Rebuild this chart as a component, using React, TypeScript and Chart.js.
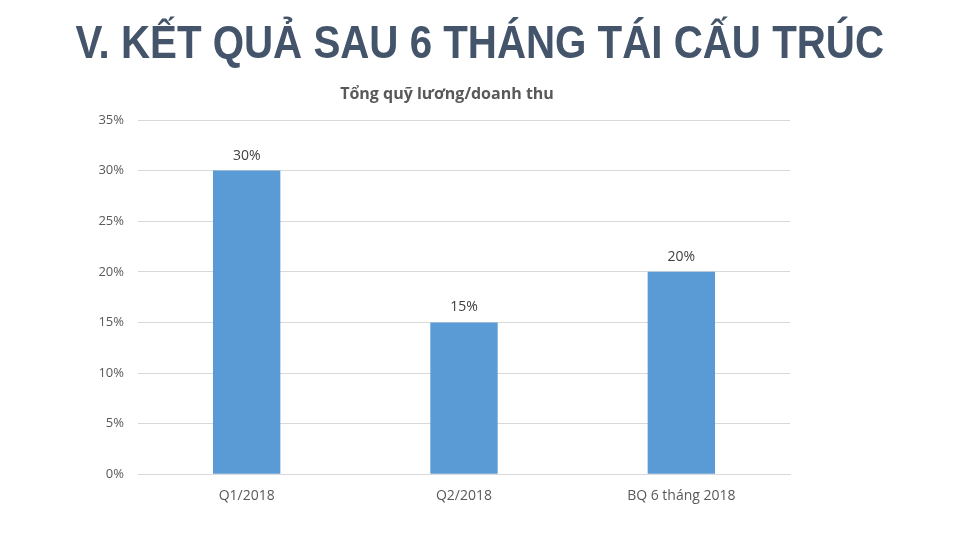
import React, { useEffect, useRef } from "react";
import { Chart, registerables } from "chart.js";

Chart.register(...registerables);

const pageTitle = "V. KẾT QUẢ SAU 6 THÁNG TÁI CẤU TRÚC";
const chartTitle = "Tổng quỹ lương/doanh thu";
const categories = ["Q1/2018", "Q2/2018", "BQ 6 tháng 2018"];
const values = [30, 15, 20];
const yMax = 35;
const yStep = 5;

const labelPlugin = {
  id: "valueLabels",
  afterDatasetsDraw(chart: any) {
    const ctx = chart.ctx;
    const meta = chart.getDatasetMeta(0);
    ctx.save();
    ctx.font = "14px 'Open Sans'";
    ctx.fillStyle = "#404040";
    ctx.textAlign = "center";
    ctx.textBaseline = "middle";
    meta.data.forEach((bar: any, i: number) => {
      ctx.fillText(values[i] + "%", bar.x, bar.y - 15);
    });
    // chart title
    ctx.font = "bold 16px 'Open Sans'";
    ctx.fillStyle = "#595959";
    ctx.fillText(chartTitle, 447, 94);
    ctx.restore();
  },
};

export default function App() {
  const ref = useRef<HTMLCanvasElement>(null);
  useEffect(() => {
    const chart = new Chart(ref.current!, {
      type: "bar",
      data: {
        labels: categories,
        datasets: [
          {
            data: values,
            backgroundColor: "#5B9BD5",
            categoryPercentage: 1,
            barPercentage: 0.31,
          },
        ],
      },
      options: {
        animation: false,
        responsive: false,
        maintainAspectRatio: false,
        layout: { padding: { left: 0, right: 170, top: 120, bottom: 23 } },
        plugins: {
          legend: { display: false },
          tooltip: { enabled: false },
          title: { display: false },
        },
        scales: {
          x: {
            grid: { display: false, drawTicks: false },
            border: { display: true, color: "#D9D9D9" },
            ticks: {
              color: "#595959",
              font: { family: "'Open Sans'", size: 14 },
              padding: 13,
            },
          },
          y: {
            min: 0,
            max: yMax,
            afterFit(scale: any) {
              scale.width = 138;
            },
            grid: { color: "#D9D9D9", drawTicks: false },
            border: { display: false },
            ticks: {
              stepSize: yStep,
              color: "#595959",
              font: { family: "'Open Sans'", size: 13 },
              padding: 14,
              callback: (v: any) => v + "%",
            },
          },
        },
      },
      plugins: [labelPlugin],
    });
    return () => chart.destroy();
  }, []);
  return (
    <div>
      <canvas
        ref={ref}
        width={960}
        height={540}
        style={{ position: "absolute", left: 0, top: 0, width: 960, height: 540 }}
      />
      <div
        style={{
          position: "absolute",
          left: 0,
          top: 14,
          width: 960,
          textAlign: "center",
          fontFamily: "'Liberation Sans', Arial, sans-serif",
          fontWeight: "bold",
          fontSize: 47,
          lineHeight: "56px",
          color: "#44546A",
          whiteSpace: "nowrap",
          transform: "scaleX(0.857)",
          transformOrigin: "478px 0",
        }}
      >
        {pageTitle}
      </div>
    </div>
  );
}
